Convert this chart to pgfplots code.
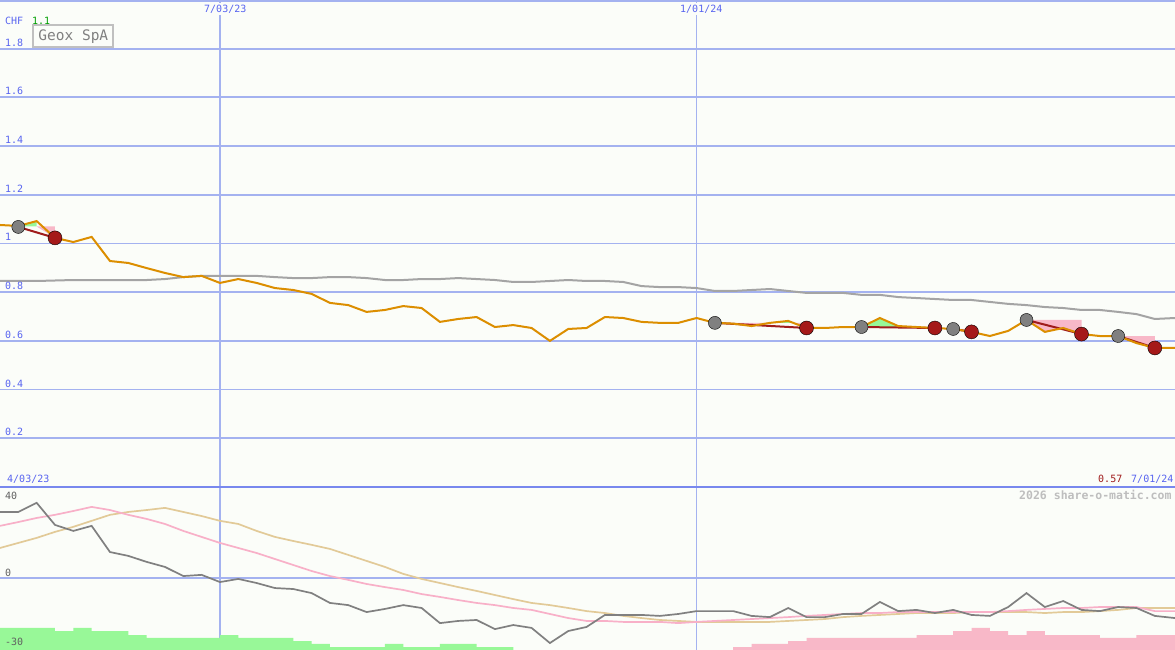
\documentclass[border=0pt]{standalone}
\usepackage{pgfplots}
\pgfplotsset{compat=1.18}
\usepackage{fontspec}
\setmainfont{DejaVu Sans Mono}
\definecolor{bg}{RGB}{251,253,249}
\definecolor{gridblue}{RGB}{164,178,240}
\definecolor{sepblue}{RGB}{120,136,238}
\definecolor{tickblue}{RGB}{88,100,240}
\definecolor{chfgreen}{RGB}{0,160,0}
\definecolor{pricecol}{RGB}{220,142,0}
\definecolor{macol}{RGB}{164,164,164}
\definecolor{trendred}{RGB}{160,28,28}
\definecolor{markred}{RGB}{165,25,25}
\definecolor{markgray}{RGB}{128,128,128}
\definecolor{fillpink}{RGB}{248,184,200}
\definecolor{fillgreen}{RGB}{152,248,152}
\definecolor{oscgray}{RGB}{128,128,128}
\definecolor{oscpink}{RGB}{248,176,200}
\definecolor{osctan}{RGB}{226,202,152}
\definecolor{labgray}{RGB}{96,96,96}
\definecolor{wmgray}{RGB}{190,190,190}
\definecolor{boxgray}{RGB}{192,192,192}

\pgfplotstableread{
w v
0 1.076
1 1.072
2 1.092
3 1.023
4 1.006
5 1.027
6 0.928
7 0.920
8 0.899
9 0.879
10 0.862
11 0.867
12 0.838
13 0.854
14 0.838
15 0.817
16 0.809
17 0.793
18 0.756
19 0.747
20 0.719
21 0.727
22 0.743
23 0.735
24 0.678
25 0.690
26 0.698
27 0.657
28 0.665
29 0.653
30 0.600
31 0.649
32 0.653
33 0.698
34 0.694
35 0.678
36 0.674
37 0.674
38 0.694
39 0.674
40 0.671
41 0.661
42 0.674
43 0.682
44 0.653
45 0.653
46 0.657
47 0.657
48 0.694
49 0.661
50 0.657
51 0.653
52 0.649
53 0.637
54 0.620
55 0.641
56 0.686
57 0.637
58 0.653
59 0.628
60 0.620
61 0.620
62 0.591
63 0.571
64.1 0.571
}\price

\pgfplotstableread{
w v
0 0.846
1 0.846
2 0.846
3 0.848
4 0.850
5 0.850
6 0.850
7 0.850
8 0.850
9 0.854
10 0.862
11 0.867
12 0.867
13 0.867
14 0.867
15 0.862
16 0.858
17 0.858
18 0.862
19 0.862
20 0.858
21 0.850
22 0.850
23 0.854
24 0.854
25 0.858
26 0.854
27 0.850
28 0.842
29 0.842
30 0.846
31 0.850
32 0.846
33 0.846
34 0.842
35 0.825
36 0.821
37 0.821
38 0.817
39 0.805
40 0.805
41 0.809
42 0.813
43 0.805
44 0.797
45 0.797
46 0.797
47 0.789
48 0.789
49 0.780
50 0.776
51 0.772
52 0.768
53 0.768
54 0.760
55 0.752
56 0.747
57 0.739
58 0.735
59 0.727
60 0.727
61 0.719
62 0.710
63 0.690
64.1 0.694
}\mavg

\pgfplotstableread{
w osc pk tan
0 27.5 21.7 12.5
1 27.5 23.3 14.6
2 31.3 25.0 16.7
3 22.1 26.3 19.2
4 19.6 27.9 21.3
5 21.7 29.6 23.8
6 10.8 28.3 26.3
7 9.2 26.3 27.5
8 6.7 24.6 28.3
9 4.6 22.5 29.2
10 0.8 19.6 27.5
11 1.3 17.1 25.8
12 -1.7 14.6 23.8
13 -0.4 12.5 22.5
14 -2.1 10.4 19.6
15 -4.2 7.9 17.1
16 -4.6 5.4 15.4
17 -6.3 2.9 13.8
18 -10.4 0.8 12.1
19 -11.3 -0.8 9.6
20 -14.2 -2.5 7.1
21 -12.9 -3.8 4.6
22 -11.3 -5.0 1.7
23 -12.5 -6.7 -0.4
24 -18.8 -7.9 -2.1
25 -17.9 -9.2 -3.8
26 -17.5 -10.4 -5.4
27 -21.3 -11.3 -7.1
28 -19.6 -12.5 -8.8
29 -20.8 -13.3 -10.4
30 -27.1 -15.0 -11.3
31 -22.1 -16.7 -12.5
32 -20.4 -17.9 -13.8
33 -15.4 -17.9 -14.6
34 -15.4 -18.3 -15.8
35 -15.4 -18.3 -16.7
36 -15.8 -18.3 -17.5
37 -15.0 -18.8 -17.9
38 -13.8 -18.3 -18.3
39 -13.8 -17.9 -18.3
40 -13.8 -17.5 -18.3
41 -15.8 -17.1 -18.3
42 -16.3 -16.7 -18.3
43 -12.5 -16.3 -17.9
44 -16.3 -15.8 -17.5
45 -16.3 -15.4 -17.1
46 -15.0 -15.0 -16.3
47 -15.0 -14.6 -15.8
48 -10.0 -14.6 -15.4
49 -13.8 -14.2 -15.0
50 -13.3 -14.2 -14.6
51 -14.6 -14.2 -14.6
52 -13.3 -14.2 -14.6
53 -15.4 -14.2 -14.2
54 -15.8 -14.2 -14.2
55 -12.1 -13.8 -14.2
56 -6.3 -13.3 -14.2
57 -12.1 -12.9 -14.6
58 -9.6 -12.5 -14.2
59 -13.3 -12.5 -14.2
60 -13.8 -12.1 -13.8
61 -12.1 -12.1 -13.3
62 -12.5 -12.1 -12.5
63 -15.8 -13.8 -12.5
64.1 -16.7 -13.8 -12.5
}\osc

\begin{document}
\begin{tikzpicture}
\fill[bg] (0,0) rectangle (1175pt,650pt);

% ---------------- top panel ----------------
\begin{axis}[
  at={(0pt,163pt)}, anchor=south west, scale only axis,
  width=1175pt, height=487pt,
  xmin=0, xmax=64.1, ymin=0, ymax=2,
  axis line style={draw=none},
  xtick={12,38}, ytick={0.2,0.4,0.6,0.8,1.0,1.2,1.4,1.6,1.8},
  xticklabels={}, yticklabels={},
  major tick length=0pt,
  grid=major,
  major grid style={draw=gridblue, line width=1.8pt},
]
% shading
\addplot[fill=fillgreen, draw=none] coordinates {(1,1.070) (2,1.092) (2,1.070)};
\addplot[fill=fillpink, draw=none] coordinates {(2,1.070) (3,1.070) (3,1.023)};
\addplot[fill=fillpink, draw=none] coordinates {(39,0.674) (40,0.671) (41,0.661) (42,0.674)};
\addplot[fill=fillgreen, draw=none] coordinates {(42,0.674) (43,0.682) (43.28,0.674)};
\addplot[fill=fillpink, draw=none] coordinates {(43.28,0.674) (44,0.653) (44,0.674)};
\addplot[fill=fillgreen, draw=none] coordinates {(47,0.657) (48,0.694) (49,0.661) (50,0.657)};
\addplot[fill=fillpink, draw=none] coordinates {(50,0.657) (51,0.653) (51,0.657)};
\addplot[fill=fillpink, draw=none] coordinates {(52,0.649) (53,0.637) (53,0.649)};
\addplot[fill=fillpink, draw=none] coordinates {(56,0.686) (57,0.637) (58,0.653) (59,0.628) (59,0.686)};
\addplot[fill=fillpink, draw=none] coordinates {(61,0.620) (62,0.591) (63,0.571) (63,0.620)};
% moving average
\addplot[macol, line width=2pt, mark=none] table[x=w, y=v] {\mavg};
% markers
\addplot[only marks, mark=*, mark size=6.5pt, mark options={fill=markgray, draw=none}]
  coordinates {(1,1.068) (39,0.674) (47,0.657) (52,0.649) (56,0.686) (61,0.620)};
\addplot[only marks, mark=*, mark size=7pt, mark options={fill=markred, draw=none}]
  coordinates {(3,1.023) (44,0.653) (51,0.653) (53,0.637) (59,0.628) (63,0.571)};
% trend lines
\addplot[trendred, line width=2pt, mark=none] coordinates {(1,1.068) (3,1.023)};
\addplot[trendred, line width=2pt, mark=none] coordinates {(39,0.674) (44,0.653)};
\addplot[trendred, line width=2pt, mark=none] coordinates {(47,0.657) (51,0.653)};
\addplot[trendred, line width=2pt, mark=none] coordinates {(52,0.649) (53,0.637)};
\addplot[trendred, line width=2pt, mark=none] coordinates {(56,0.686) (59,0.628)};
\addplot[trendred, line width=2pt, mark=none] coordinates {(61,0.620) (63,0.571)};
% price
\addplot[pricecol, line width=2pt, mark=none] table[x=w, y=v] {\price};
\end{axis}

% ---------------- bottom panel ----------------
\begin{axis}[
  at={(0pt,0pt)}, anchor=south west, scale only axis,
  width=1175pt, height=163pt,
  xmin=0, xmax=64.1, ymin=-30, ymax=37.9,
  axis line style={draw=none},
  xtick={12,38}, ytick={0},
  xticklabels={}, yticklabels={},
  major tick length=0pt,
  grid=major,
  major grid style={draw=gridblue, line width=1.8pt},
]
\addplot[fill=fillgreen, draw=none, const plot] coordinates {
 (0,-30) (0,-20.8) (3,-22.1) (4,-20.8) (5,-22.1) (7,-23.8) (8,-25.0) (12,-23.8)
 (13,-25.0) (16,-26.3) (17,-27.5) (18,-28.8) (21,-27.5) (22,-28.8) (24,-27.5)
 (26,-28.8) (28,-28.8) (28,-30)};
\addplot[fill=fillpink, draw=none, const plot] coordinates {
 (40,-30) (40,-28.8) (41,-27.5) (43,-26.3) (44,-25.0) (50,-23.8) (52,-22.1)
 (53,-20.8) (54,-22.1) (55,-23.8) (56,-22.1) (57,-23.8) (60,-25.0) (62,-23.8)
 (64.1,-23.8) (64.1,-30)};
\addplot[osctan, line width=1.7pt, mark=none] table[x=w, y=tan] {\osc};
\addplot[oscpink, line width=1.7pt, mark=none] table[x=w, y=pk] {\osc};
\addplot[oscgray, line width=1.7pt, mark=none] table[x=w, y=osc] {\osc};
\end{axis}

% frame lines
\draw[gridblue, line width=4pt] (0,650pt) -- (1175pt,650pt);
\draw[sepblue, line width=2.2pt] (0,163pt) -- (1175pt,163pt);

% texts
\begin{scope}[every node/.style={inner sep=0pt, font=\fontsize{10}{10}\selectfont}]
\node[anchor=base west, text=tickblue] at (5pt,625pt) {CHF};
\node[anchor=base west, text=chfgreen] at (32pt,625pt) {1.1};
\foreach \v in {1.8,1.6,1.4,1.2,1,0.8,0.6,0.4,0.2}{
  \node[anchor=base west, text=tickblue] at (5pt,{(165.5+\v*243.5)*1pt}) {\v};
}
\node[anchor=base west, text=tickblue, fill=bg, inner sep=1.5pt] at (202.5pt,637.7pt) {7/03/23};
\node[anchor=base west, text=tickblue, fill=bg, inner sep=1.5pt] at (678.5pt,637.7pt) {1/01/24};
\node[anchor=base west, text=tickblue] at (7pt,167.3pt) {4/03/23};
\node[anchor=base west, text=trendred] at (1098pt,167.3pt) {0.57};
\node[anchor=base west, text=tickblue] at (1131pt,167.3pt) {7/01/24};
\node[anchor=base west, text=wmgray, font=\fontsize{11.5}{11.5}\selectfont\bfseries] at (1019pt,150pt) {2026 share-o-matic.com};
\node[anchor=base west, text=labgray] at (5pt,150pt) {40};
\node[anchor=base west, text=labgray] at (5pt,73pt) {0};
\node[anchor=base west, text=labgray] at (5pt,4pt) {-30};
\end{scope}
\node[draw=boxgray, line width=2pt, fill=bg, minimum width=80pt, minimum height=22.3pt,
  inner sep=0pt, text=markgray, font=\fontsize{14.5}{14.5}\selectfont] at (73.3pt,613.8pt) {Geox SpA};

\pgfresetboundingbox
\path[use as bounding box] (0,0) rectangle (1175pt,650pt);
\end{tikzpicture}
\end{document}
